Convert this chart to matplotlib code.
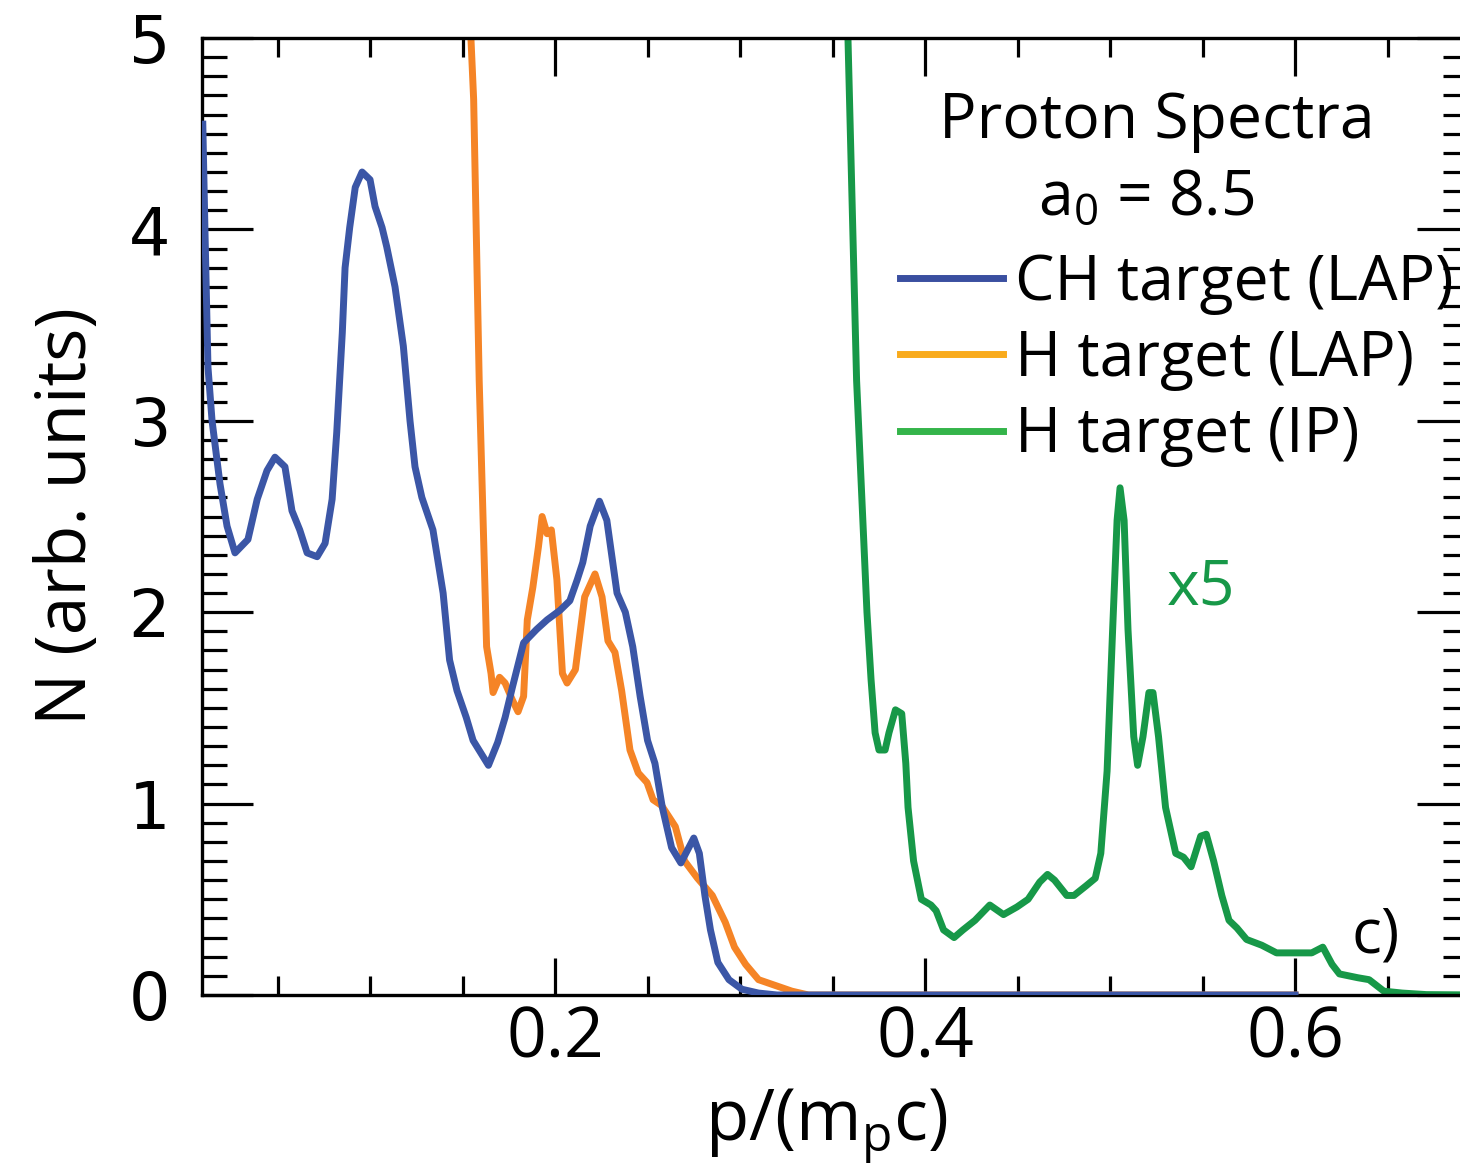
import matplotlib
matplotlib.use("Agg")
import matplotlib.pyplot as plt
import matplotlib.ticker as ticker
from matplotlib.lines import Line2D

# ---------------------------------------------------------------------------
# Data
# ---------------------------------------------------------------------------
# CH target (LAP)
ch_x = [0.0096, 0.0108, 0.0124, 0.0146, 0.0189, 0.0227, 0.027, 0.034, 0.039,
        0.0443, 0.0486, 0.054, 0.0578, 0.062, 0.066, 0.0714, 0.0757, 0.0795,
        0.082, 0.085, 0.0865, 0.089, 0.092, 0.0957, 0.100, 0.1027, 0.1065,
        0.109, 0.1135, 0.118, 0.1216, 0.1243, 0.128, 0.134, 0.1395, 0.143,
        0.147, 0.152, 0.1557, 0.164, 0.169, 0.173, 0.177, 0.183, 0.190,
        0.1957, 0.2027, 0.208, 0.212, 0.215, 0.219, 0.224, 0.228, 0.2335,
        0.238, 0.242, 0.246, 0.250, 0.254, 0.258, 0.263, 0.268, 0.275,
        0.278, 0.281, 0.284, 0.288, 0.294, 0.301, 0.31, 0.32, 0.60]
ch_y = [4.55, 3.98, 3.28, 3.00, 2.67, 2.45, 2.31, 2.38, 2.59, 2.74, 2.81, 2.76,
        2.53, 2.43, 2.31, 2.29, 2.36, 2.59, 2.94, 3.46, 3.80, 4.01, 4.22, 4.30,
        4.26, 4.12, 4.01, 3.91, 3.70, 3.39, 3.00, 2.76, 2.60, 2.43, 2.10, 1.75,
        1.59, 1.45, 1.33, 1.20, 1.32, 1.45, 1.61, 1.84, 1.91, 1.96, 2.01, 2.06,
        2.17, 2.26, 2.45, 2.58, 2.48, 2.10, 2.00, 1.82, 1.56, 1.33, 1.21, 0.98,
        0.77, 0.69, 0.82, 0.74, 0.52, 0.34, 0.17, 0.08, 0.03, 0.01, 0.0, 0.0]

# H target (LAP)
h_lap_x = [0.1543, 0.156, 0.159, 0.161, 0.163, 0.1654, 0.1665, 0.170, 0.173,
           0.177, 0.180, 0.183, 0.185, 0.188, 0.191, 0.193, 0.1957, 0.198,
           0.201, 0.204, 0.2065, 0.211, 0.2135, 0.216, 0.2216, 0.2254, 0.2286,
           0.2324, 0.236, 0.2405, 0.245, 0.2497, 0.253, 0.2576, 0.265, 0.270,
           0.277, 0.285, 0.292, 0.297, 0.303, 0.310, 0.319, 0.328, 0.337, 0.60]
h_lap_y = [5.05, 4.68, 3.21, 2.52, 1.82, 1.68, 1.58, 1.66, 1.63, 1.54, 1.48,
           1.56, 1.96, 2.13, 2.34, 2.50, 2.41, 2.43, 2.17, 1.68, 1.63, 1.70,
           1.89, 2.08, 2.20, 2.08, 1.85, 1.79, 1.59, 1.28, 1.16, 1.11, 1.02,
           0.99, 0.88, 0.70, 0.61, 0.52, 0.38, 0.25, 0.16, 0.08, 0.05, 0.02,
           0.0, 0.0]

# H target (IP), scaled x5
h_ip_x = [0.3582, 0.363, 0.3654, 0.3686, 0.3708, 0.373, 0.3751, 0.3784, 0.3805,
          0.384, 0.3874, 0.3896, 0.3908, 0.3938, 0.398, 0.4032, 0.406, 0.410,
          0.4157, 0.4205, 0.427, 0.435, 0.4424, 0.4497, 0.4557, 0.462, 0.4662,
          0.470, 0.4766, 0.4805, 0.487, 0.492, 0.495, 0.4984, 0.5014, 0.5038,
          0.5054, 0.5076, 0.5097, 0.5128, 0.5149, 0.5178, 0.521, 0.5232,
          0.5262, 0.530, 0.5355, 0.5397, 0.5438, 0.549, 0.552, 0.556, 0.5604,
          0.5643, 0.5686, 0.5738, 0.582, 0.590, 0.6005, 0.609, 0.615, 0.620,
          0.624, 0.634, 0.640, 0.648, 0.658, 0.671, 0.700]
h_ip_y = [5.05, 3.21, 2.69, 2.00, 1.65, 1.37, 1.28, 1.28, 1.37, 1.49, 1.47,
          1.21, 0.98, 0.70, 0.50, 0.47, 0.44, 0.34, 0.30, 0.34, 0.39, 0.47,
          0.42, 0.46, 0.50, 0.59, 0.63, 0.60, 0.52, 0.52, 0.57, 0.61, 0.74,
          1.17, 1.91, 2.48, 2.65, 2.48, 1.91, 1.35, 1.20, 1.35, 1.58, 1.58,
          1.35, 0.98, 0.74, 0.72, 0.67, 0.83, 0.84, 0.70, 0.52, 0.39, 0.35,
          0.29, 0.26, 0.22, 0.22, 0.22, 0.25, 0.16, 0.11, 0.09, 0.08, 0.02,
          0.01, 0.002, 0.0]

labels = ["CH target (LAP)", "H target (LAP)", "H target (IP)"]
line_colors = ["#3b56a6", "#f58426", "#179848"]
legend_colors = ["#3a4fa0", "#f9ab1c", "#34b44a"]

# ---------------------------------------------------------------------------
# Plot
# ---------------------------------------------------------------------------
plt.rcParams["font.family"] = "Open Sans"

fig = plt.figure(figsize=(14.6, 11.67), dpi=100, facecolor="white")
ax = fig.add_axes([0.1384, 0.1474, 0.8671, 0.8200])

LW = 5.0
ax.plot(h_lap_x, h_lap_y, color=line_colors[1], lw=LW, zorder=2)
ax.plot(ch_x, ch_y, color=line_colors[0], lw=LW, zorder=3)
ax.plot(h_ip_x, h_ip_y, color=line_colors[2], lw=LW, zorder=2)

ax.set_xlim(0.0092, 0.6935)
ax.set_ylim(0, 5)

ax.xaxis.set_major_locator(ticker.MultipleLocator(0.2))
ax.xaxis.set_minor_locator(ticker.MultipleLocator(0.05))
ax.yaxis.set_major_locator(ticker.MultipleLocator(1))
ax.yaxis.set_minor_locator(ticker.MultipleLocator(0.1))
ax.xaxis.set_major_formatter(ticker.FuncFormatter(lambda v, p: f"{v:.1f}"))

for s in ax.spines.values():
    s.set_linewidth(2.4)

ax.tick_params(axis="both", which="both", direction="in", top=True,
               right=True, width=2.3, color="black")
ax.tick_params(axis="x", which="major", length=27, pad=7, labelsize=50)
ax.tick_params(axis="x", which="minor", length=13.5)
ax.tick_params(axis="y", which="major", length=37, pad=23, labelsize=47)
ax.tick_params(axis="y", which="minor", length=18)
for lab in ax.get_yticklabels():
    lab.set_fontfamily("DejaVu Sans")

ax.set_xlabel(r"p/(m$_\mathregular{p}$c)", fontsize=51)
ax.xaxis.set_label_coords(0.493, -0.095)
ax.set_ylabel("N (arb. units)", fontsize=50)
ax.yaxis.set_label_coords(-0.078, 0.5)

# legend header
ax.text(0.754, 0.8955, "Proton Spectra", transform=ax.transAxes,
        fontsize=45, ha="center", va="baseline")
ax.text(0.746, 0.815, r"a$_\mathregular{0}$ = 8.5", transform=ax.transAxes,
        fontsize=45, ha="center", va="baseline")

handles = [Line2D([0], [0], color=c, lw=LW) for c in legend_colors]
ax.legend(handles, labels, loc="upper left", bbox_to_anchor=(0.551, 0.776),
          fontsize=45, frameon=False, handlelength=1.65, handletextpad=0.2,
          labelspacing=0.22, borderpad=0, borderaxespad=0)

ax.text(0.5492, 2.04, "x5", color=line_colors[2], fontsize=45,
        ha="center", va="baseline")
ax.text(0.6438, 0.22, "c)", fontsize=45, ha="center", va="baseline")

fig.savefig("out.png", dpi=100, facecolor="white")
